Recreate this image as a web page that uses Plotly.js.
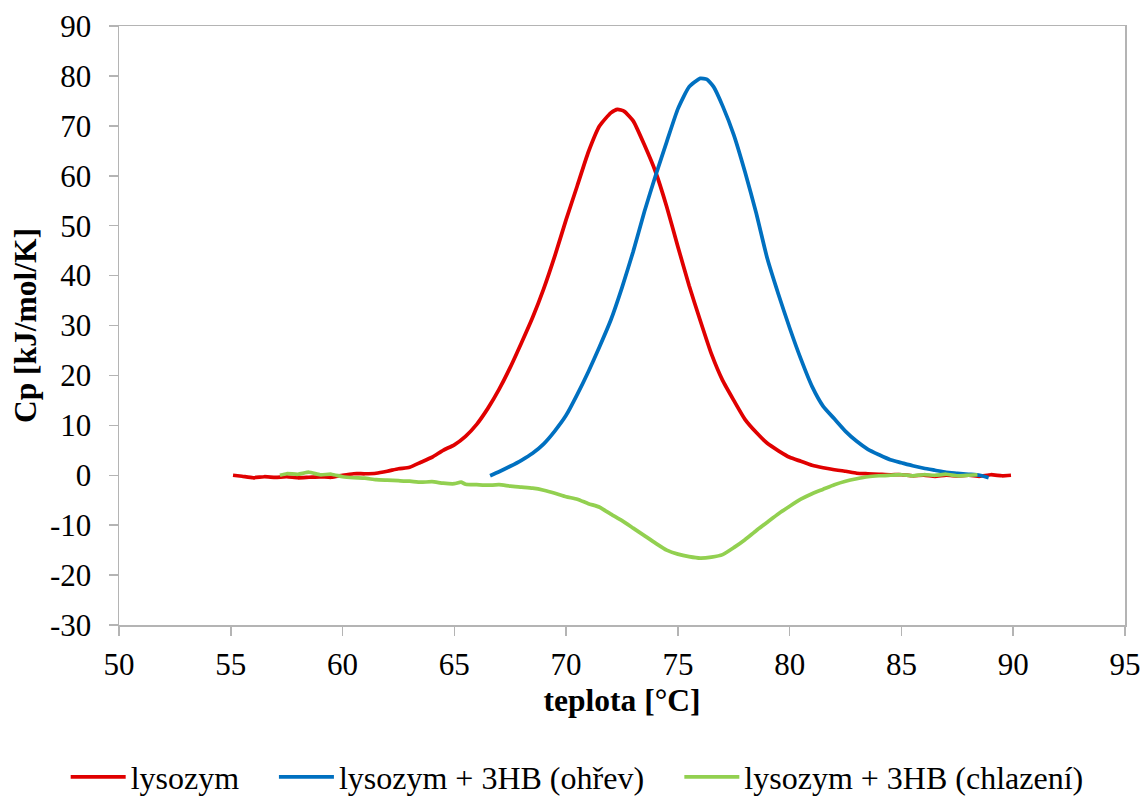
<!DOCTYPE html>
<html>
<head>
<meta charset="utf-8">
<script src="https://cdn.plot.ly/plotly-3.0.1.min.js"></script>
<style>html,body{margin:0;padding:0;background:#fff;}#chart{width:1143px;height:799px;}</style>
</head>
<body>
<div id="chart"></div>
<script>
// lysozym
const lysX = [55.1,55.5,56.0,56.5,57.0,57.5,58.0,58.5,59.0,59.5,60.0,60.5,61.0,61.5,62.0,62.5,63.0,63.5,64.0,64.5,65.0,65.5,66.0,66.5,67.0,67.5,68.0,68.5,69.0,69.5,70.0,70.5,71.0,71.5,72.0,72.3,72.6,73.0,73.5,74.0,74.5,75.0,75.5,76.0,76.5,77.0,77.5,78.0,78.5,79.0,79.5,80.0,80.5,81.0,81.5,82.0,82.5,83.0,83.5,84.0,84.5,85.0,85.5,86.0,86.5,87.0,87.5,88.0,88.5,89.0,89.5,89.9];
const lysY = [0.0,-0.2,-0.5,-0.3,-0.4,-0.3,-0.5,-0.4,-0.3,-0.4,0.0,0.3,0.3,0.4,0.8,1.3,1.6,2.6,3.6,5.0,6.1,7.8,10.2,13.4,17.2,21.6,26.5,31.6,37.4,44.0,51.2,58.0,64.8,70.0,72.6,73.3,72.9,71.0,66.2,60.8,53.8,45.8,38.0,31.0,24.3,19.0,15.0,11.2,8.6,6.4,4.9,3.6,2.8,2.0,1.5,1.1,0.8,0.4,0.3,0.2,0.1,0.1,-0.1,0.0,-0.2,0.0,-0.1,0.0,-0.2,0.1,-0.1,0.0];

// lysozym + 3HB (ohřev)
const heatX = [66.6,67.0,67.5,68.0,68.5,69.0,69.5,70.0,70.5,71.0,71.5,72.0,72.5,73.0,73.5,74.0,74.5,75.0,75.5,76.0,76.3,76.6,77.0,77.5,78.0,78.5,79.0,79.5,80.0,80.5,81.0,81.5,82.0,82.5,83.0,83.5,84.0,84.5,85.0,85.5,86.0,86.5,87.0,87.5,88.0,88.5,88.9];
const heatY = [-0.1,0.7,1.8,3.0,4.4,6.3,8.9,12.0,16.2,20.8,25.8,31.1,37.6,44.8,52.8,60.0,66.8,73.4,77.8,79.5,79.3,77.8,74.0,68.2,60.8,52.6,43.4,36.2,29.5,23.3,17.8,13.8,11.3,8.8,6.8,5.2,4.1,3.1,2.5,1.9,1.4,1.0,0.6,0.4,0.2,0.0,-0.5];

// lysozym + 3HB (chlazení)
const coolX = [57.2,57.5,58.0,58.5,59.0,59.5,60.0,60.5,61.0,61.5,62.0,62.5,63.0,63.5,64.0,64.5,65.0,65.3,65.5,66.0,66.5,67.0,67.5,68.0,68.5,69.0,69.5,70.0,70.5,71.0,71.5,72.0,72.5,73.0,73.5,74.0,74.5,75.0,75.5,76.0,76.5,77.0,77.5,78.0,78.5,79.0,79.5,80.0,80.5,81.0,81.5,82.0,82.5,83.0,83.5,84.0,84.5,85.0,85.5,86.0,86.5,87.0,87.5,88.0,88.4];
const coolY = [0.0,0.3,0.2,0.6,0.1,0.2,-0.3,-0.5,-0.6,-0.9,-1.0,-1.1,-1.2,-1.4,-1.3,-1.6,-1.7,-1.4,-1.8,-1.9,-2.0,-1.9,-2.2,-2.4,-2.6,-3.0,-3.6,-4.3,-4.8,-5.7,-6.4,-7.8,-9.1,-10.6,-12.1,-13.6,-15.0,-15.8,-16.3,-16.6,-16.4,-15.9,-14.5,-12.9,-11.1,-9.4,-7.7,-6.2,-4.8,-3.7,-2.8,-1.9,-1.2,-0.7,-0.3,-0.1,0.0,0.1,-0.1,0.1,0.0,0.2,-0.1,0.0,0.1];

const seriesNames = ["lysozym", "lysozym + 3HB (ohřev)", "lysozym + 3HB (chlazení)"];
const seriesColors = ["#E00000", "#0070C0", "#92D050"];
const xTickVals = [50,55,60,65,70,75,80,85,90,95];
const xTickText = ["50","55","60","65","70","75","80","85","90","95"];
const yTickVals = [-30,-20,-10,0,10,20,30,40,50,60,70,80,90];
const yTickText = ["-30","-20","-10","0","10","20","30","40","50","60","70","80","90"];
const xTitle = "teplota [°C]";
const yTitle = "Cp [kJ/mol/K]";

const FONT = "'Liberation Serif', 'Times New Roman', serif";
const AX = "#b4b4b4";
const legendIds = ["legend", "legend2", "legend3"];
const legendX = [-0.053, 0.154, 0.557];

const traces = [[lysX, lysY], [heatX, heatY], [coolX, coolY]].map((d, i) => ({
  x: d[0], y: d[1], type: "scatter", mode: "lines", name: seriesNames[i],
  legend: legendIds[i],
  line: {color: seriesColors[i], width: 3.75, shape: "spline", smoothing: 0.5}
}));

const legendBase = (x) => ({orientation: "h", x: x, xanchor: "left", y: -0.254, yanchor: "middle",
  itemwidth: 55, bgcolor: "rgba(0,0,0,0)", font: {family: FONT, size: 32, color: "#000"}});

const layout = {
  width: 1143, height: 799,
  margin: {l: 119, r: 18, t: 26, b: 174, autoexpand: false},
  paper_bgcolor: "#fff", plot_bgcolor: "#fff",
  font: {family: FONT, size: 31, color: "#000"},
  showlegend: true,
  legend: legendBase(legendX[0]),
  legend2: legendBase(legendX[1]),
  legend3: legendBase(legendX[2]),
  xaxis: {
    range: [50, 95], tickmode: "array", tickvals: xTickVals, ticktext: xTickText,
    showgrid: false, zeroline: false, automargin: false,
    showline: true, linecolor: AX, linewidth: 1.5, mirror: true,
    ticks: "outside", ticklen: 9, tickcolor: AX, tickwidth: 1.5,
    tickfont: {family: FONT, size: 31, color: "#000"}, ticklabelstandoff: 2,
    title: {text: "<b>" + xTitle + "</b>", font: {family: FONT, size: 31.5, color: "#000"}, standoff: 8}
  },
  yaxis: {
    range: [-30, 90], tickmode: "array", tickvals: yTickVals, ticktext: yTickText,
    showgrid: false, zeroline: false, automargin: false,
    showline: true, linecolor: AX, linewidth: 1.5, mirror: true,
    ticks: "outside", ticklen: 9, tickcolor: AX, tickwidth: 1.5,
    tickfont: {family: FONT, size: 31, color: "#000"}, ticklabelstandoff: 11,
    title: {text: "<b>" + yTitle + "</b>", font: {family: FONT, size: 31.5, color: "#000"}, standoff: 4}
  }
};

Plotly.newPlot("chart", traces, layout, {displayModeBar: false, staticPlot: true});
</script>
</body>
</html>
